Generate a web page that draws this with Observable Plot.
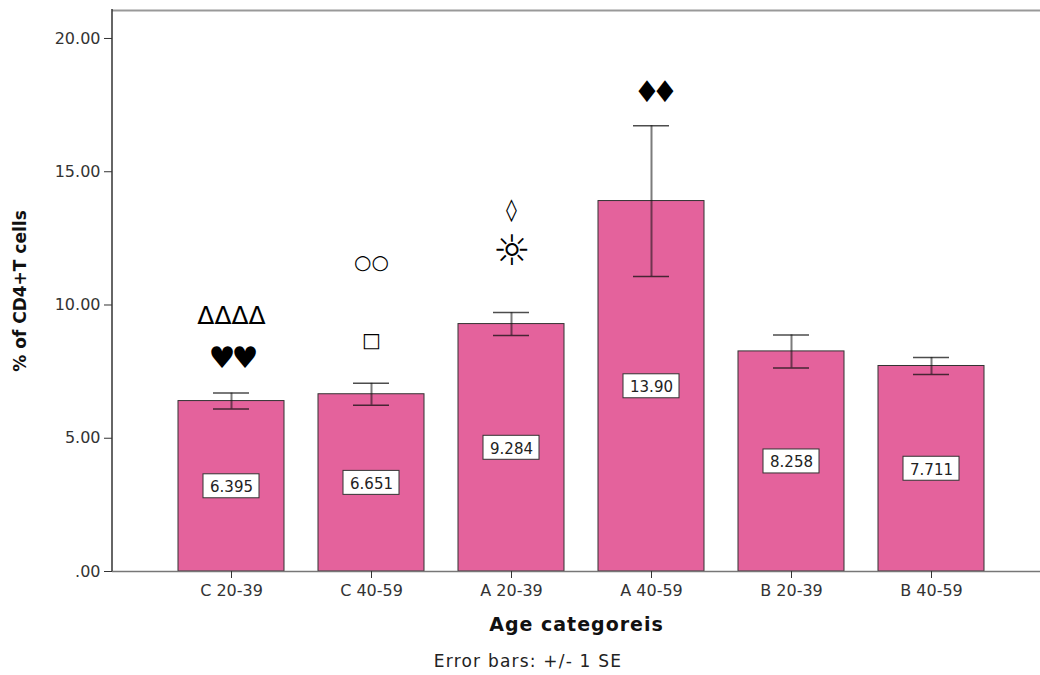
<!DOCTYPE html>
<html>
<head>
<meta charset="utf-8">
<script src="https://cdn.jsdelivr.net/npm/d3@7"></script>
<script src="https://cdn.jsdelivr.net/npm/@observablehq/plot@0.6"></script>
<style>
  body { margin: 0; background: #fff; font-family: "DejaVu Sans", sans-serif; }
  #chart { position: relative; width: 1040px; height: 675px; }
  #caption { position: absolute; top: 651px; left: 8px; width: 1040px; text-align: center;
             font-size: 17px; letter-spacing: 1.2px; color: #222; }
</style>
</head>
<body>
<div id="chart"><div id="caption">Error bars: +/- 1 SE</div></div>
<script>
// Mean % of CD4+ T cells per group, with standard errors
const groups = ["C 20-39", "C 40-59", "A 20-39", "A 40-59", "B 20-39", "B 40-59"];
const means = [6.395, 6.651, 9.284, 13.90, 8.258, 7.711];
const meanLabels = ["6.395", "6.651", "9.284", "13.90", "8.258", "7.711"];
const stdErrors = [0.30, 0.41, 0.43, 2.83, 0.62, 0.32];
const yTicks = [0, 5, 10, 15, 20];

// Significance markers drawn above the bars
const markerGroups = ["C 20-39", "C 20-39", "C 40-59", "C 40-59", "A 20-39", "A 20-39", "A 40-59"];
const markerSymbols = ["ΔΔΔΔ", "♥♥", "○○", "□", "◊", "☼", "♦♦"];
const markerLevels = [9.57, 7.99, 11.59, 8.67, 13.55, 12.0, 17.97];
const markerSizes = [25, 30, 20, 20, 22, 42, 30];

const rows = groups.map((g, i) => ({
  group: g, mean: means[i], label: meanLabels[i], se: stdErrors[i]
}));
const markers = markerGroups.map((g, i) => ({
  group: g, symbol: markerSymbols[i], level: markerLevels[i], size: markerSizes[i]
}));

const yMax = 21.05;
const fmt = v => v === 0 ? ".00" : d3.format(".2f")(v);

const chart = Plot.plot({
  width: 1040,
  height: 640,
  marginLeft: 112,
  marginRight: 0,
  marginTop: 10,
  marginBottom: 69,
  style: { fontFamily: "DejaVu Sans, sans-serif", background: "transparent" },
  x: { domain: groups, paddingInner: 0.246, paddingOuter: 0.423, align: 0.538, label: null },
  y: { domain: [0, yMax], label: null },
  marks: [
    // bars
    Plot.barY(rows, { x: "group", y: "mean", fill: "#e4629c", stroke: "#333", strokeWidth: 1 }),
    // frame top line and baseline
    Plot.ruleY([yMax], { stroke: "#999", strokeWidth: 2 }),
    Plot.ruleY([0], { stroke: "#777", strokeWidth: 1.5 }),
    // error bars: stems and caps
    Plot.ruleX(rows, {
      x: "group", y1: d => d.mean - d.se, y2: d => d.mean + d.se,
      stroke: "#111", strokeOpacity: 0.55, strokeWidth: 2
    }),
    Plot.tickY(rows, {
      x: "group", y: d => d.mean + d.se, stroke: "#111", strokeOpacity: 0.75,
      strokeWidth: 1.5, insetLeft: 35, insetRight: 35
    }),
    Plot.tickY(rows, {
      x: "group", y: d => d.mean - d.se, stroke: "#111", strokeOpacity: 0.75,
      strokeWidth: 1.5, insetLeft: 35, insetRight: 35
    }),
    // value boxes at half bar height
    Plot.barY(rows, {
      x: "group", y1: d => d.mean / 2 - 0.45, y2: d => d.mean / 2 + 0.45,
      fill: "white", stroke: "#333", strokeWidth: 1, insetLeft: 25, insetRight: 25
    }),
    Plot.text(rows, {
      x: "group", y: d => d.mean / 2, text: "label",
      fontSize: 15, fill: "#222", dy: 1
    }),
    // markers
    Plot.text(markers, {
      x: "group", y: "level", text: "symbol", fontSize: d => d.size,
      fill: "black", fontFamily: "DejaVu Sans, sans-serif"
    }),
    // axes
    Plot.axisY({
      ticks: yTicks, tickFormat: fmt, tickSize: 8, tickPadding: 4,
      fontSize: 16, color: "#333", label: null
    }),
    Plot.axisX({ tickSize: 7, tickPadding: 6, fontSize: 16, color: "#333", label: null }),
    Plot.text(["Age categoreis"], {
      frameAnchor: "bottom", dy: 59, text: d => d, fontSize: 19, fontWeight: "bold", fill: "#111"
    }),
    Plot.text(["% of CD4+T cells"], {
      frameAnchor: "left", textAnchor: "middle", dx: -92, rotate: -90, text: d => d,
      fontSize: 17, fontWeight: "bold", fill: "#111"
    })
  ]
});

// left axis line
d3.select(chart).append("line")
  .attr("x1", 112).attr("x2", 112).attr("y1", 9).attr("y2", 571)
  .attr("stroke", "#333").attr("stroke-width", 1.5);

// letter spacing for the paired glyph markers and the x title
const spacing = { "♦♦": "-9px", "♥♥": "-4px", "Age categoreis": "1px" };
d3.select(chart).selectAll("text").each(function () {
  const s = spacing[this.textContent];
  if (s) d3.select(this).attr("letter-spacing", s);
});

document.getElementById("chart").prepend(chart);
</script>
</body>
</html>
